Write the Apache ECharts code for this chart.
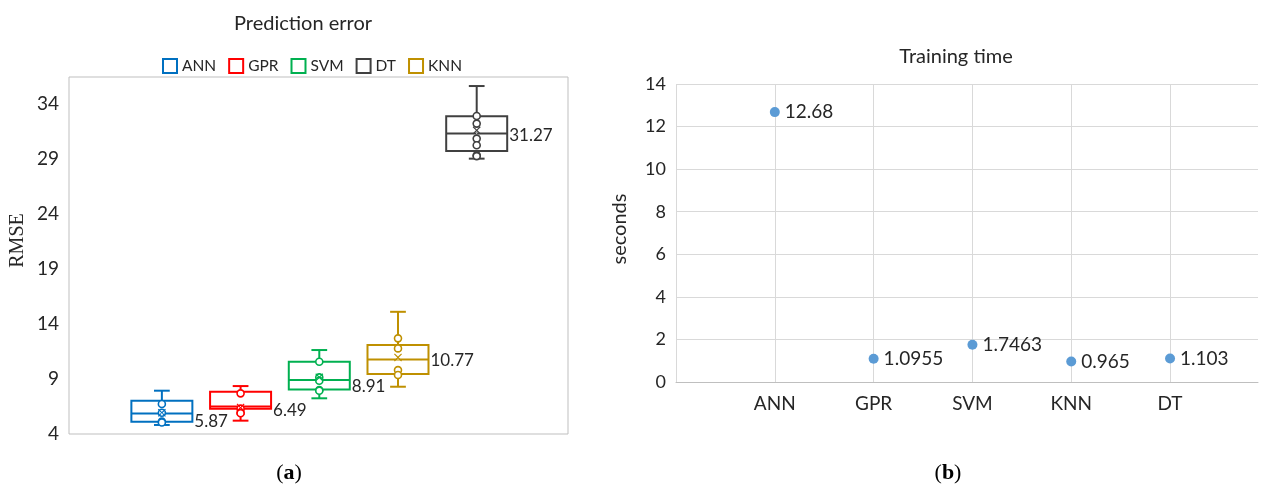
<!DOCTYPE html>
<html><head><meta charset="utf-8">
<script src="https://cdn.jsdelivr.net/npm/echarts@6/dist/echarts.min.js"></script>
<style>html,body{margin:0;padding:0;background:#fff}#c{width:1261px;height:486px}</style>
</head><body><div id="c"></div>
<script>
// ---------- data: (a) Prediction error (RMSE box plots) ----------
const models = ['ANN', 'GPR', 'SVM', 'KNN', 'DT'];
const legendOrder = ['ANN', 'GPR', 'SVM', 'DT', 'KNN'];
const boxMin    = [4.82, 5.21, 7.24, 8.29, 28.99];
const boxQ1     = [5.12, 6.30, 8.05, 9.44, 29.68];
const boxMedian = [5.87, 6.49, 8.91, 10.77, 31.27];
const boxQ3     = [7.02, 7.83, 10.56, 12.07, 32.83];
const boxMax    = [7.93, 8.35, 11.62, 15.09, 35.58];
const boxMean   = [5.93, 6.40, 9.14, 10.95, 31.56];
const annPoints = [6.72, 5.93, 5.12, 5.05];
const gprPoints = [7.69, 6.30, 5.93, 5.88];
const svmPoints = [10.56, 9.14, 8.83, 7.99, 7.93];
const knnPoints = [12.68, 11.77, 9.80, 9.35];
const dtPoints  = [32.86, 32.17, 30.81, 30.20, 29.29, 29.22];
const rmseTicks = [4, 9, 14, 19, 24, 29, 34];

// ---------- data: (b) Training time ----------
const timeCategories = ['ANN', 'GPR', 'SVM', 'KNN', 'DT'];
const trainSeconds = [12.68, 1.0955, 1.7463, 0.965, 1.103];

// ---------- styles ----------
const FONT = 'Lato';
const TXT = '#262626';
const modelColors = { ANN: '#0070c0', GPR: '#ff0000', SVM: '#00b050', KNN: '#bf9000', DT: '#404040' };
const labelDy = { ANN: 8, GPR: 4, SVM: 7, KNN: 1, DT: 2 };
const BOX_RATIO = 0.775, CAP_RATIO = 0.2;
const pointsByModel = { ANN: annPoints, GPR: gprPoints, SVM: svmPoints, KNN: knnPoints, DT: dtPoints };

function renderBox(params, api) {
  const x = api.value(0);
  const lo = api.coord([x, api.value(1)]);
  const q1 = api.coord([x, api.value(2)]);
  const md = api.coord([x, api.value(3)]);
  const q3 = api.coord([x, api.value(4)]);
  const hi = api.coord([x, api.value(5)]);
  const unit = api.size([1, 0])[0];
  const hw = unit * BOX_RATIO / 2, cw = unit * CAP_RATIO / 2;
  const color = api.visual('color');
  const st = { stroke: color, lineWidth: 2, fill: null };
  return { type: 'group', children: [
    { type: 'rect', shape: { x: q3[0] - hw, y: q3[1], width: 2 * hw, height: q1[1] - q3[1] }, style: { stroke: color, lineWidth: 2, fill: 'rgba(0,0,0,0)' } },
    { type: 'line', shape: { x1: md[0] - hw, y1: md[1], x2: md[0] + hw, y2: md[1] }, style: st },
    { type: 'line', shape: { x1: hi[0], y1: hi[1], x2: q3[0], y2: q3[1] }, style: st },
    { type: 'line', shape: { x1: q1[0], y1: q1[1], x2: lo[0], y2: lo[1] }, style: st },
    { type: 'line', shape: { x1: hi[0] - cw, y1: hi[1], x2: hi[0] + cw, y2: hi[1] }, style: st },
    { type: 'line', shape: { x1: lo[0] - cw, y1: lo[1], x2: lo[0] + cw, y2: lo[1] }, style: st }
  ]};
}

const xMark = 'path://M1,0L5,4L9,0L10,1L6,5L10,9L9,10L5,6L1,10L0,9L4,5L0,1Z';

const series = [];
models.forEach((m, i) => {
  const c = modelColors[m];
  series.push({
    name: m, type: 'custom', xAxisIndex: 0, yAxisIndex: 0, z: 2,
    renderItem: renderBox,
    itemStyle: { color: c },
    encode: { x: 0, y: [1, 2, 3, 4, 5] },
    data: [[i + 1, boxMin[i], boxQ1[i], boxMedian[i], boxQ3[i], boxMax[i]]]
  });
  series.push({
    name: m, type: 'scatter', xAxisIndex: 0, yAxisIndex: 0, z: 3,
    symbol: 'circle', symbolSize: 7,
    itemStyle: { color: '#ffffff', borderColor: c, borderWidth: 1.6, opacity: 1 },
    data: pointsByModel[m].map(v => [i + 1, v])
  });
  series.push({
    name: m, type: 'scatter', xAxisIndex: 0, yAxisIndex: 0, z: 4,
    symbol: xMark, symbolSize: 8,
    itemStyle: { color: c, opacity: 1 },
    data: [[i + 1, boxMean[i]]]
  });
  series.push({
    name: m + ' median', type: 'scatter', xAxisIndex: 0, yAxisIndex: 0, z: 5,
    symbol: 'circle', symbolSize: 1, silent: true,
    itemStyle: { color: '#ffffff', opacity: 1 },
    label: { show: true, position: 'right', distance: 32, offset: [0, labelDy[m]],
      fontFamily: FONT, fontSize: 17, color: TXT, opacity: 1,
      formatter: p => String(p.value[1]) },
    data: [[i + 1, boxMedian[i]]]
  });
});

series.push({
  name: 'Training time', type: 'scatter', xAxisIndex: 1, yAxisIndex: 1,
  symbol: 'circle', symbolSize: 10,
  itemStyle: { color: '#5b9bd5', opacity: 1 },
  label: { show: true, position: 'right', distance: 5, fontFamily: FONT, fontSize: 19, color: TXT,
    formatter: p => String(p.value[1]) },
  data: trainSeconds.map((v, i) => [i + 1, v])
});

const capRich = { p: { fontFamily: 'Liberation Serif', fontSize: 22, fontWeight: 'normal', color: '#000' },
                  b: { fontFamily: 'Liberation Serif', fontSize: 22, fontWeight: 'bold', color: '#000' } };

const option = {
  animation: false,
  backgroundColor: '#ffffff',
  title: [
    { text: 'Prediction error', left: 298, top: 9, textAlign: 'center',
      textStyle: { fontFamily: FONT, fontSize: 20, fontWeight: 'normal', color: TXT } },
    { text: 'Training time', left: 951, top: 42, textAlign: 'center',
      textStyle: { fontFamily: FONT, fontSize: 20, fontWeight: 'normal', color: TXT } },
    { text: '{p|(}{b|a}{p|)}', left: 284, top: 457, textAlign: 'center', textStyle: { fontWeight: 'normal', rich: capRich } },
    { text: '{p|(}{b|b}{p|)}', left: 943, top: 457, textAlign: 'center', textStyle: { fontWeight: 'normal', rich: capRich } }
  ],
  legend: {
    left: 157, top: 53, itemWidth: 14, itemHeight: 14, itemGap: 12,
    textStyle: { fontFamily: FONT, fontSize: 15.5, color: TXT },
    data: legendOrder.map(m => ({ name: m, icon: 'rect',
      itemStyle: { color: '#ffffff', borderColor: modelColors[m], borderWidth: 2 } })),
    selectedMode: false
  },
  grid: [
    { left: 69, top: 77, width: 499, height: 357, show: true, borderColor: '#bfbfbf', borderWidth: 1 },
    { left: 676, top: 84, width: 585, height: 298 }
  ],
  xAxis: [
    { gridIndex: 0, type: 'value', min: -0.18, max: 6.16, show: false },
    { gridIndex: 1, type: 'value', min: 0, max: 5.89, interval: 1,
      axisLine: { show: true, lineStyle: { color: '#bfbfbf', width: 1 } },
      axisTick: { show: false },
      splitLine: { show: true, showMaxLine: false, lineStyle: { color: '#d9d9d9', width: 1 } },
      axisLabel: { margin: 12, fontFamily: FONT, fontSize: 19, color: TXT,
        formatter: v => (Number.isInteger(v) && v >= 1 && v <= timeCategories.length) ? timeCategories[v - 1] : '' } }
  ],
  yAxis: [
    { gridIndex: 0, type: 'value', min: 4, max: 36.4,
      axisLine: { show: false }, axisTick: { show: false }, splitLine: { show: false },
      axisLabel: { customValues: rmseTicks, margin: 10, fontFamily: FONT, fontSize: 19, color: TXT },
      name: 'RMSE', nameLocation: 'middle', nameGap: 41,
      nameTextStyle: { fontFamily: 'Liberation Serif', fontSize: 20, color: TXT, padding: [0, 0, 0, 30] } },
    { gridIndex: 1, type: 'value', min: 0, max: 14, interval: 2,
      axisLine: { show: false }, axisTick: { show: false },
      splitLine: { show: true, lineStyle: { color: '#d9d9d9', width: 1 } },
      axisLabel: { margin: 10, fontFamily: FONT, fontSize: 18, color: TXT },
      name: 'seconds', nameLocation: 'middle', nameGap: 46,
      nameTextStyle: { fontFamily: FONT, fontSize: 20, color: TXT, padding: [0, 0, 0, 8] } }
  ],
  series: series
};

const chart = echarts.init(document.getElementById('c'), null, { renderer: 'canvas' });
chart.setOption(option);
</script>
</body></html>
